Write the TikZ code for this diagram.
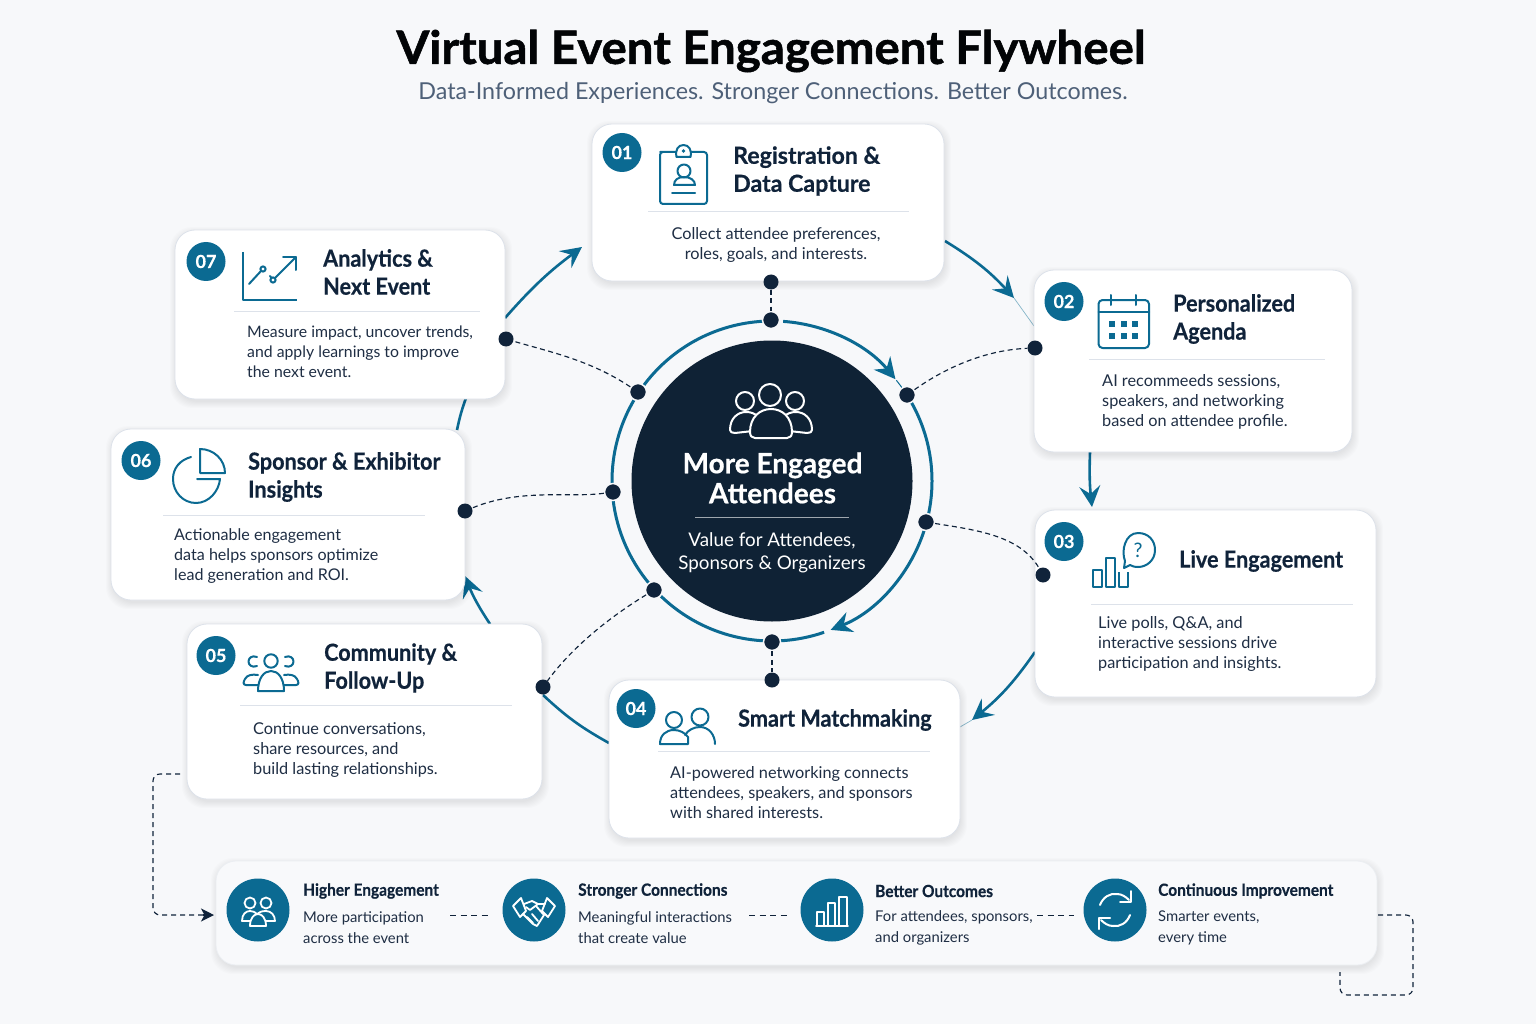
\documentclass[tikz,border=0pt]{standalone}
\usepackage{fontspec}
\setmainfont{Lato}
\newfontfamily\titlefont[BoldFeatures={FakeStretch=1.03,FakeBold=1.2}]{Lato}
\newfontfamily\headfont[BoldFeatures={FakeStretch=.92,FakeBold=.5}]{Lato}
\newfontfamily\headfontb[BoldFeatures={FakeStretch=.985,FakeBold=.5}]{Lato}
\newfontfamily\hubfont[BoldFeatures={FakeBold=.5}]{Lato}
\usetikzlibrary{arrows.meta,calc}
\definecolor{bgc}{HTML}{F7F8FA}
\definecolor{teal}{HTML}{0B6A92}
\definecolor{navy}{HTML}{10233A}
\definecolor{hubc}{HTML}{0F2235}
\definecolor{bodyc}{HTML}{1F2E44}
\definecolor{bordc}{HTML}{DDE2EA}
\definecolor{sepc}{HTML}{DDE2EA}
\definecolor{subc}{HTML}{4E6078}
\definecolor{barc}{HTML}{F8F9FB}
\tikzset{
 cardbox/.style={draw=bordc,line width=0.8pt,fill=white,rounded corners=20pt,inner sep=0,outer sep=0},
 shadowbox/.style={fill=black,opacity=0.012,rounded corners=22pt,inner sep=0},
 badge/.style={circle,fill=teal,text=white,inner sep=0,minimum size=39pt,font=\hubfont\fontsize{18}{18}\selectfont\bfseries},
 head/.style={font=\headfont\fontsize{23.5}{28}\selectfont\bfseries,text=navy,align=left,anchor=west,inner sep=0},
 bodyt/.style={font=\fontsize{16.3}{20}\selectfont,text=bodyc,align=left,anchor=west,inner sep=0},
 sepline/.style={draw=sepc,line width=1pt},
 icon/.style={draw=teal,line width=2pt,line cap=round,line join=round},
 wicon/.style={draw=white,line width=1.8pt,line cap=round,line join=round},
 wiconb/.style={draw=white,line width=2.4pt,line cap=round,line join=round},
 dotn/.style={circle,fill=navy,draw=bgc,line width=1.5pt,inner sep=0,minimum size=17pt},
 cdot/.style={circle,fill=navy,inner sep=0,minimum size=15pt},
 dashln/.style={draw=navy,dash pattern=on 5pt off 3.5pt,line width=1.15pt},
 ringl/.style={draw=teal,line width=3pt},
 flow/.style={draw=teal,line width=2.6pt,-{Stealth[length=21pt,width=21pt,inset=8pt]}},
 flowp/.style={draw=teal,line width=2.6pt},
 ringa/.style={draw=teal,line width=3pt,-{Stealth[length=21pt,width=21pt,inset=7pt]}},
 botc/.style={circle,fill=teal,inner sep=0,minimum size=63pt},
 both/.style={font=\headfont\fontsize{16.8}{20}\selectfont\bfseries,text=navy,anchor=west,inner sep=0},
 bott/.style={font=\fontsize{14.8}{21}\selectfont,text=bodyc,align=left,anchor=west,inner sep=0},
}
\newcommand{\softshadow}[4]{%
 \foreach \k in {0,2,4,6,8,10,12}{%
  \node[shadowbox,minimum width=#3+\k pt,minimum height=#4+\k pt] at (#1+1,#2+3) {};}}
\newcommand{\card}[5]{% name cx cy w h
 \softshadow{#2}{#3}{#4}{#5}
 \node[cardbox,minimum width=#4,minimum height=#5] (#1) at (#2,#3) {};}
\begin{document}
\begin{tikzpicture}[x=1pt,y=-1pt]
\useasboundingbox (0,0) rectangle (1536,1024);
\fill[bgc] (0,0) rectangle (1536,1024);

% title
\node[inner sep=0,font=\titlefont\fontsize{46}{48}\selectfont\bfseries,text=black!90!navy] (title) at (771,51) {Virtual Event Engagement Flywheel};
\node[inner sep=0,font=\fontsize{23.3}{26}\selectfont,text=subc] (subtitle) at (773,93) {Data-Informed Experiences. Stronger Connections. Better Outcomes.};

% outer flow arcs (below the cards)
\coordinate (f1a) at (945,241); \coordinate (f1b) at (1014,298); \coordinate (f1c) at (1034,326);
\coordinate (f2a) at (1090,452); \coordinate (f2b) at (1092,507);
\coordinate (f3a) at (1035,652); \coordinate (f3b) at (972,720); \coordinate (f3c) at (960,727);
\coordinate (f4a) at (609,743); \coordinate (f4b) at (543,695);
\coordinate (f5a) at (490,624); \coordinate (f5b) at (465,576);
\coordinate (f6a) at (457,430); \coordinate (f6b) at (466,398);
\coordinate (f7a) at (505,318); \coordinate (f7b) at (582,247);
\draw[flow] (f1a) to[bend left=8] (f1b);
\draw[teal!50,line width=0.7pt] (f1b) -- (f1c);
\draw[flow] (f2a) to[bend right=4] (f2b);
\draw[flow] (f3a) to[bend left=8] (f3b);
\draw[teal!50,line width=0.7pt] (f3b) -- (f3c);
\draw[flowp] (f4a) to[bend left=7] (f4b);
\draw[flow] (f5a) to[bend left=6] (f5b);
\draw[flowp] (f6a) to[bend left=4] (f6b);
\draw[flow] (f7a) to[bend left=6] (f7b);

% cards
\card{c1}{768}{202.5}{352}{157}
\card{c2}{1193}{361}{318}{182}
\card{c3}{1205.5}{603.5}{341}{187}
\card{c4}{784.5}{759}{351}{158}
\card{c5}{364.5}{711.5}{355}{175}
\card{c6}{288}{514.5}{354}{171}
\card{c7}{340}{314.5}{330}{169}

% centre
\draw[ringa] (772,481) ++(-86:160) arc[start angle=-86,end angle=-39.5,radius=160];
\draw[teal,line width=1pt] (772,481) ++(-39:160) arc[start angle=-39,end angle=-34,radius=160];
\draw[ringl] (772,481) ++(-30:160) arc[start angle=-30,end angle=12,radius=160];
\draw[ringa] (772,481) ++(18:160) arc[start angle=18,end angle=68.5,radius=160];
\draw[ringl] (772,481) ++(71:160) arc[start angle=71,end angle=87,radius=160];
\draw[ringl] (772,481) ++(93:160) arc[start angle=93,end angle=134,radius=160];
\draw[ringl] (772,481) ++(140:160) arc[start angle=140,end angle=173,radius=160];
\draw[ringl] (772,481) ++(179:160) arc[start angle=179,end angle=211,radius=160];
\draw[ringl] (772,481) ++(216:160) arc[start angle=216,end angle=267,radius=160];
\node[circle,fill=hubc,inner sep=0,minimum size=281pt] (hub) at (772,481) {};

% centre icon
\draw[wiconb,line width=2pt] (770,395) circle[radius=11];
\draw[wiconb,line width=2pt] (745,401) circle[radius=9];
\draw[wiconb,line width=2pt] (795,401) circle[radius=9];
\draw[wiconb,line width=2pt,fill=hubc] (730,430) .. controls (730,418) and (738,412) .. (746,412) .. controls (756,412) and (762,418) .. (762,430) -- (735,433) .. controls (732,433) and (730,432) .. (730,430) -- cycle;
\draw[wiconb,line width=2pt,fill=hubc] (812,430) .. controls (812,418) and (804,412) .. (796,412) .. controls (786,412) and (780,418) .. (780,430) -- (807,433) .. controls (810,433) and (812,432) .. (812,430) -- cycle;
\draw[wiconb,line width=2pt,fill=hubc] (750,432) .. controls (750,417) and (760,409) .. (771,409) .. controls (782,409) and (792,417) .. (792,432) .. controls (792,436) and (790,438) .. (787,438) -- (755,438) .. controls (752,438) and (750,436) .. (750,432) -- cycle;

\node[inner sep=0,align=center,text=white,font=\hubfont\fontsize{28}{30}\selectfont\bfseries] (hubt) at (772.5,478) {More Engaged\\Attendees};
\draw[white!60!hubc,line width=1pt] (695,517) -- (849,517);
\node[inner sep=0,align=center,text=white,font=\fontsize{18.8}{23}\selectfont] (hubs) at (772,553) {Value for Attendees,\\Sponsors \& Organizers};

% connector dots
\node[dotn] (r1) at (771,320) {};
\node[dotn] (r2) at (907,395) {};
\node[dotn] (r3) at (926,522) {};
\node[dotn] (r4) at (772,642) {};
\node[dotn] (r5) at (654,590) {};
\node[dotn] (r6) at (613,492) {};
\node[dotn] (r7) at (638,392) {};
\node[cdot] (d1) at (771,282) {};
\node[cdot] (d2) at (1035,348) {};
\node[cdot] (d3) at (1043,575) {};
\node[cdot] (d4) at (772,680) {};
\node[cdot] (d5) at (543,687) {};
\node[cdot] (d6) at (465,511) {};
\node[cdot] (d7) at (506,339) {};
\draw[dashln] (d1) -- (r1);
\draw[dashln] (r2) .. controls (945,368) and (985,350) .. (d2);
\draw[dashln] (r3) .. controls (975,530) and (1020,535) .. (d3);
\draw[dashln] (r4) -- (d4);
\draw[dashln] (r5) .. controls (605,620) and (570,650) .. (d5);
\draw[dashln] (r6) .. controls (570,498) and (520,488) .. (d6);
\draw[dashln] (r7) .. controls (590,360) and (550,352) .. (d7);

% card contents
\node[badge] (b1) at (622,152.5) {01};
\node[badge] (b2) at (1064,301.5) {02};
\node[badge] (b3) at (1064,541.5) {03};
\node[badge] (b4) at (636,708.5) {04};
\node[badge] (b5) at (216,655.5) {05};
\node[badge] (b6) at (141,460.5) {06};
\node[badge] (b7) at (206,261.5) {07};

\node[head,font=\headfontb\fontsize{23.5}{28}\selectfont\bfseries] (h1) at (733,171) {Registration \&\\Data Capture};
\node[head] (h2) at (1173,319) {Personalized\\Agenda};
\node[head] (h3) at (1179,561) {Live Engagement};
\node[head] (h4) at (738,720) {Smart Matchmaking};
\node[head] (h5) at (324,668) {Community \&\\Follow-Up};
\node[head] (h6) at (248,477) {Sponsor \& Exhibitor\\Insights};
\node[head] (h7) at (323,272) {Analytics \&\\Next Event};

\draw[sepline] (648,212) -- (909,212);
\draw[sepline] (1089,359) -- (1325,359);
\draw[sepline] (1091,604) -- (1353,604);
\draw[sepline] (658,751) -- (930,751);
\draw[sepline] (240,705) -- (512,705);
\draw[sepline] (163,515) -- (425,515);
\draw[sepline] (234,311) -- (480,311);

\node[bodyt,align=center,anchor=center] (t1) at (776,245) {Collect attendee preferences,\\roles, goals, and interests.};
\node[bodyt] (t2) at (1102,402) {AI recommeeds sessions,\\speakers, and networking\\based on attendee profile.};
\node[bodyt] (t3) at (1098,644) {Live polls, Q\&A, and\\interactive sessions drive\\participation and insights.};
\node[bodyt] (t4) at (670,793) {AI-powered networking connects\\attendees, speakers, and sponsors\\with shared interests.};
\node[bodyt] (t5) at (253,750) {Continue conversations,\\share resources, and\\build lasting relationships.};
\node[bodyt,font=\fontsize{16.1}{20}\selectfont] (t6) at (174,556) {Actionable engagement\\data helps sponsors optimize\\lead generation and ROI.};
\node[bodyt,font=\fontsize{15.8}{20}\selectfont] (t7) at (247,352) {Measure impact, uncover trends,\\and apply learnings to improve\\the next event.};

% icon 01 badge
\draw[icon,rounded corners=3pt] (677,152) -- (663,152) -- (660,152) -- (660,204) -- (707,204) -- (707,152) -- (690,152);
\draw[icon,fill=white] (676.5,157) -- (690.5,157) .. controls (692,150) and (689,145) .. (683.5,145) .. controls (678,145) and (675,150) .. (676.5,157) -- cycle;
\fill[teal] (683.5,151) circle[radius=1.8];
\draw[icon] (684,171) circle[radius=6.5];
\draw[icon] (674,185) .. controls (674,180) and (678,177) .. (684,177) .. controls (690,177) and (695,180) .. (695,185) -- cycle;
\draw[icon] (672,193) -- (695,193);

% icon 02 calendar
\draw[icon,rounded corners=4pt] (1098.5,300) rectangle (1149,348);
\draw[icon] (1098.5,311.5) -- (1149,311.5);
\draw[icon] (1111,295) -- (1111,305);
\draw[icon] (1136,295) -- (1136,305);
\foreach \xx in {1112,1124,1135}{\foreach \yy in {324,336}{\fill[teal] (\xx-2.7,\yy-2.7) rectangle (\xx+2.7,\yy+2.7);}}

% icon 03
\draw[icon,line cap=butt] (1093,570) rectangle (1102,587);
\draw[icon,line cap=butt] (1106,558) rectangle (1115,587);
\draw[icon,line cap=butt] (1119,572) -- (1119,587) -- (1128,587) -- (1128,572);
\draw[icon] (1125,561) .. controls (1121,551) and (1125,533) .. (1138,533) .. controls (1149,533) and (1155,541) .. (1155,550) .. controls (1155,560) and (1147,567) .. (1138,567) .. controls (1134,567) and (1132,566) .. (1130,565) -- (1124,568) -- cycle;
\node[inner sep=0,text=teal,font=\fontsize{20}{20}\selectfont] (q) at (1138,550) {?};

% icon 04
\draw[icon] (674,720) circle[radius=8];
\draw[icon] (700,717) circle[radius=8.5];
\draw[icon] (660,744) .. controls (660,735) and (666,730) .. (674,730) .. controls (680,730) and (685,733) .. (688,737) -- (688,744) -- cycle;
\draw[icon] (685,735) .. controls (688,730) and (694,727) .. (700,727) .. controls (709,727) and (715,735) .. (715,744);

% icon 05
\draw[icon] (271,661) circle[radius=6.7];
\draw[icon] (257,657) .. controls (252,655) and (248.5,658) .. (248.5,661.5) .. controls (248.5,665) and (252,668) .. (257,666);
\draw[icon] (285,657) .. controls (290,655) and (293.5,658) .. (293.5,661.5) .. controls (293.5,665) and (290,668) .. (285,666);
\draw[icon] (258,691) .. controls (258,678) and (264,671) .. (271,671) .. controls (278,671) and (284,678) .. (284,691) -- cycle;
\draw[icon] (258,685) -- (246,685) .. controls (243,685) and (243,682) .. (245,679) .. controls (247,675) and (252,674) .. (258,675);
\draw[icon] (284,685) -- (296,685) .. controls (299,685) and (299,682) .. (297,679) .. controls (295,675) and (290,674) .. (284,675);

% icon 06
\draw[icon] (191,457) .. controls (180,460) and (173,468) .. (173,479) .. controls (173,492) and (183,503) .. (196,503) .. controls (209,503) and (219,491) .. (220,479) -- (197,479);
\draw[icon] (200,473) -- (200,449) .. controls (214,449) and (225,460) .. (225,473) -- cycle;

% icon 07
\draw[icon,line cap=butt] (243,252) -- (243,300) -- (297,300);
\draw[icon] (249,284) -- (261,271);
\draw[icon] (263,269) circle[radius=2.6];
\draw[icon] (270,276) -- (271.5,278);
\draw[icon] (273,280) circle[radius=2.6];
\draw[icon] (275,278) -- (296,257);
\draw[icon] (283,257) -- (296,257) -- (296,270);

% bottom bar
\softshadow{796.5}{913}{1161}{104}
\node[cardbox,fill=barc,draw=bordc!60,minimum width=1161,minimum height=104] (bar) at (796.5,913) {};
\node[botc] (o1) at (258,910) {};
\node[botc] (o2) at (534,910) {};
\node[botc] (o3) at (832,910) {};
\node[botc] (o4) at (1115,910) {};

\node[both] (bh1) at (303,891) {Higher Engagement};
\node[both] (bh2) at (578,891) {Stronger Connections};
\node[both] (bh3) at (875,891) {Better Outcomes};
\node[both] (bh4) at (1158,891) {Continuous Improvement};
\node[bott] (bt1) at (303,928) {More participation\\across the event};
\node[bott] (bt2) at (578,928) {Meaningful interactions\\that create value};
\node[bott] (bt3) at (875,928) {For attendees, sponsors,\\and organizers};
\node[bott] (bt4) at (1158,928) {Smarter events,\\every time};

% bottom icon 1
\draw[wicon] (250,903) circle[radius=5.5];
\draw[wicon] (266,903) circle[radius=5.5];
\draw[wicon] (242,921) .. controls (242,914) and (246,911) .. (250,911) .. controls (253,911) and (255,912) .. (257,914);
\draw[wicon] (242,921) -- (250,921);
\draw[wicon] (257,914) .. controls (259,912) and (262,911) .. (266,911) .. controls (271,911) and (275,915) .. (275,921) -- (266,921);
\draw[wicon] (250,926) .. controls (250,918) and (254,914) .. (258,914) .. controls (262,914) and (266,918) .. (266,926) -- cycle;

% bottom icon 2 handshake
\draw[wicon] (513,906) -- (521,898) -- (526,911) -- (520,917) -- cycle;
\draw[wicon] (555,906) -- (547,898) -- (542,911) -- (548,917) -- cycle;
\draw[wicon] (524,904) -- (532,901) -- (538,904) -- (545,904);
\draw[wicon] (538,904) -- (530,910) -- (526,907);
\draw[wicon] (536,906) -- (544,915);
\draw[wicon] (523,914) -- (533,924) -- (537,926) -- (544,915);
\draw[wicon] (527,917) -- (533,923);
\draw[wicon] (532,914) -- (538,921);

% bottom icon 3
\draw[wicon,line width=1.6pt] (817,912) rectangle (824,926);
\draw[wicon,line width=1.6pt] (828,903) rectangle (835,926);
\draw[wicon,line width=1.6pt] (839,897) rectangle (847,926);
\draw[wicon,line width=1.6pt] (816,926) -- (848,926);

% bottom icon 4
\draw[wicon,line width=2pt] (1100,905) .. controls (1103,897) and (1110,893) .. (1117,894) .. controls (1122,894) and (1126,897) .. (1129,900);
\draw[wicon,line width=2pt] (1131,891) -- (1131,902) -- (1120,902);
\draw[wicon,line width=2pt] (1130,915) .. controls (1127,923) and (1120,927) .. (1113,926) .. controls (1108,926) and (1104,923) .. (1101,920);
\draw[wicon,line width=2pt] (1099,929) -- (1099,918) -- (1110,918);

% bottom dashes
\coordinate (g1a) at (450,915); \coordinate (g1b) at (488,915);
\coordinate (g2a) at (749,915); \coordinate (g2b) at (787,915);
\coordinate (g3a) at (1037,915); \coordinate (g3b) at (1074,915);
\draw[dashln,line width=1pt,dash pattern=on 6pt off 4.5pt] (g1a) -- (g1b);
\draw[dashln,line width=1pt,dash pattern=on 6pt off 4.5pt] (g2a) -- (g2b);
\draw[dashln,line width=1pt,dash pattern=on 6pt off 4.5pt] (g3a) -- (g3b);

% loop back
\coordinate (l1) at (180,774);
\draw[dashln,dash pattern=on 5pt off 4pt,rounded corners=7pt] (l1) -- (153,774) -- (153,915) -- (205,915);
\draw[navy,line width=1.2pt,-{Stealth[length=13pt,width=13pt,inset=3.5pt]}] (203,915) -- (214,915);
\coordinate (l2) at (1378,915); \coordinate (l3) at (1340,972);
\draw[dashln,dash pattern=on 5pt off 4pt,rounded corners=7pt] (l2) -- (1413,915) -- (1413,995) -- (1340,995) -- (l3);
\end{tikzpicture}
\end{document}
